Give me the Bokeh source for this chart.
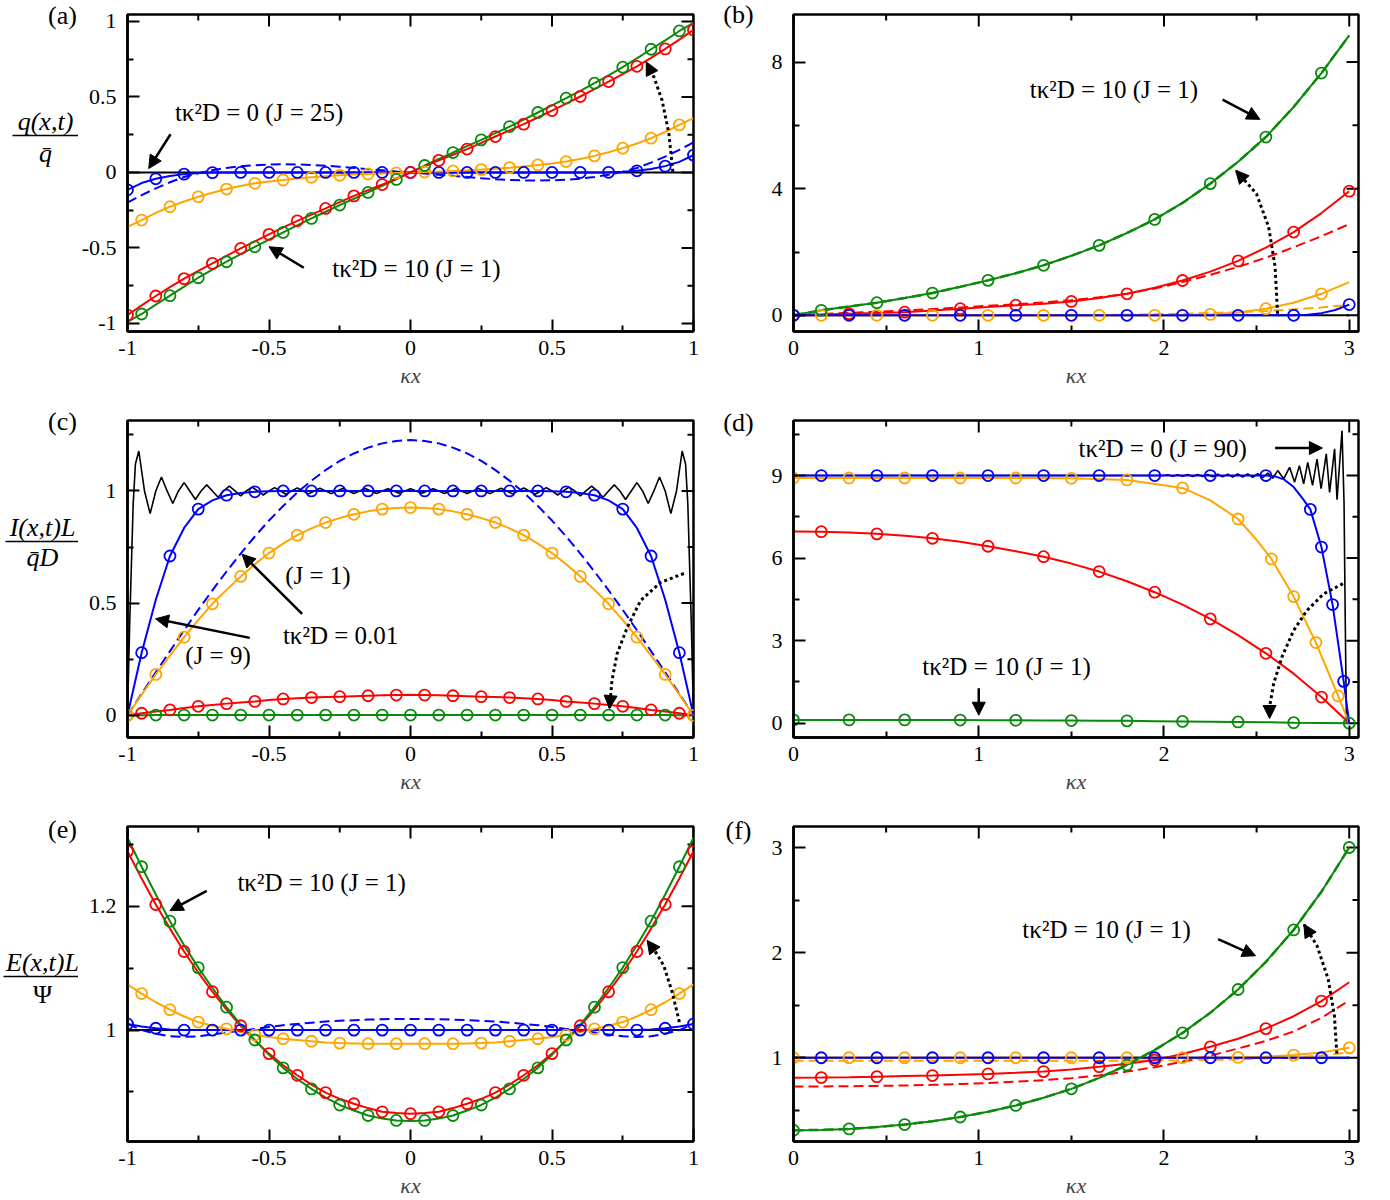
import numpy as np
from bokeh.plotting import figure
from bokeh.layouts import column, row
from bokeh.models import (Range1d, FixedTicker, LinearAxis, Label, Arrow,
                          NormalHead, CustomJSTickFormatter)
from bokeh.core.properties import value
from bokeh.embed import file_html
from bokeh.resources import INLINE

SERIF = "Liberation Serif"
BLUE, ORANGE, RED, GREEN, BLACK = "#0000ff", "#ffa500", "#ff0000", "#0a8a0a", "#000000"

# ---------------- sampling grids ----------------
X41 = [round(-1 + 0.05 * i, 2) for i in range(41)]
X21 = [round(0.15 * i, 2) for i in range(21)]

# ---------------- panel (a): q(x,t)/qbar ----------------
a_black_x = [-1.0, 1.0]
a_black_y = [0.0, 0.0]
a_green = [-0.990, -0.937, -0.875, -0.816, -0.756, -0.697, -0.643, -0.591, -0.541, -0.492, -0.444,
           -0.397, -0.350, -0.304, -0.260, -0.216, -0.174, -0.132, -0.089, -0.046, 0.0,
           0.046, 0.089, 0.132, 0.174, 0.216, 0.260, 0.304, 0.350, 0.397, 0.444, 0.492,
           0.541, 0.591, 0.643, 0.697, 0.756, 0.816, 0.875, 0.937, 0.990]
a_red = [-0.944, -0.880, -0.818, -0.759, -0.703, -0.651, -0.602, -0.552, -0.503, -0.456, -0.410,
         -0.364, -0.320, -0.279, -0.238, -0.196, -0.155, -0.117, -0.080, -0.040, 0.0,
         0.040, 0.080, 0.117, 0.155, 0.196, 0.238, 0.279, 0.320, 0.364, 0.410, 0.456,
         0.503, 0.552, 0.602, 0.651, 0.703, 0.759, 0.818, 0.880, 0.944]
a_orange = [-0.360, -0.315, -0.268, -0.227, -0.192, -0.161, -0.134, -0.110, -0.089, -0.072, -0.060,
            -0.050, -0.040, -0.032, -0.025, -0.019, -0.014, -0.010, -0.006, -0.003, 0.0,
            0.003, 0.006, 0.010, 0.014, 0.019, 0.025, 0.032, 0.040, 0.050, 0.060, 0.072,
            0.089, 0.110, 0.134, 0.161, 0.192, 0.227, 0.268, 0.315, 0.360]
a_blue = [-0.115, -0.070, -0.042, -0.023, -0.011, -0.004, -0.001, 0.0, 0.0, 0.0, 0.0,
          0.0, 0.0, 0.0, 0.0, 0.0, 0.0, 0.0, 0.0, 0.0, 0.0,
          0.0, 0.0, 0.0, 0.0, 0.0, 0.0, 0.0, 0.0, 0.0, 0.0, 0.0,
          0.0, 0.0, 0.001, 0.004, 0.011, 0.023, 0.042, 0.070, 0.115]
a_blue_dash = [-0.200, -0.150, -0.105, -0.065, -0.030, -0.005, 0.015, 0.030, 0.041, 0.048, 0.052,
               0.054, 0.053, 0.050, 0.045, 0.038, 0.030, 0.022, 0.015, 0.007, 0.0,
               -0.007, -0.015, -0.022, -0.030, -0.038, -0.045, -0.050, -0.053, -0.054, -0.052, -0.048,
               -0.041, -0.030, -0.015, 0.005, 0.030, 0.065, 0.105, 0.150, 0.200]

# ---------------- panel (b) ----------------
b_black_x = [0.0, 3.0]
b_black_y = [0.0, 0.0]
b_green = [0.0, 0.158, 0.28, 0.40, 0.545, 0.705, 0.90, 1.105, 1.33, 1.58, 1.88,
           2.21, 2.60, 3.03, 3.55, 4.16, 4.85, 5.63, 6.58, 7.65, 8.84]
b_red = [0.0, 0.025, 0.05, 0.075, 0.10, 0.15, 0.21, 0.26, 0.32, 0.37, 0.44,
         0.55, 0.68, 0.87, 1.10, 1.38, 1.72, 2.14, 2.63, 3.23, 3.92]
b_red_dash = [0.0, 0.04, 0.08, 0.115, 0.15, 0.20, 0.25, 0.30, 0.35, 0.41, 0.48,
              0.57, 0.68, 0.85, 1.05, 1.28, 1.53, 1.82, 2.15, 2.50, 2.88]
b_orange = [0.0, 0.0, 0.0, 0.0, 0.0, 0.0, 0.0, 0.0, 0.0, 0.0, 0.0,
            0.0, 0.0, 0.0, 0.01, 0.03, 0.09, 0.21, 0.40, 0.68, 1.05]
b_orange_dash = [0.0, 0.0, 0.0, 0.0, 0.0, 0.0, 0.0, 0.0, 0.0, 0.0, 0.0,
                 0.01, 0.02, 0.035, 0.05, 0.075, 0.10, 0.14, 0.19, 0.25, 0.33]
b_blue_x = [0.0, 0.3, 0.6, 0.9, 1.2, 1.5, 1.8, 2.1, 2.4, 2.7, 2.775, 2.85, 2.925, 3.0]
b_blue_y = [0.0, 0.0, 0.0, 0.0, 0.0, 0.0, 0.0, 0.0, 0.0, 0.0, 0.02, 0.07, 0.17, 0.34]
b_blue_mx = [0.0, 0.3, 0.6, 0.9, 1.2, 1.5, 1.8, 2.1, 2.4, 2.7, 3.0]
b_blue_my = [0.0, 0.0, 0.0, 0.0, 0.0, 0.0, 0.0, 0.0, 0.0, 0.0, 0.34]

# ---------------- panel (c): I(x,t)L/(qbar D) ----------------
c_black_x = ([-1.0, -0.992, -0.98, -0.972] + [round(-0.96 + 0.02 * j, 3) for j in range(97)]
             + [0.972, 0.98, 0.992, 1.0])
c_black_y = ([0.0, 0.42, 0.94, 1.12] +
             [1.178, 1.0, 0.899, 1.0, 1.062, 1.0, 0.944, 1.0, 1.037, 1.0, 0.962, 1.0, 1.027, 1.0,
              0.972, 1.0, 1.021, 1.0, 0.978, 1.0, 1.017, 1.0, 0.982, 1.0, 1.015, 1.0, 0.985, 1.0,
              1.013, 1.0, 0.987, 1.0, 1.012, 1.0, 0.988, 1.0, 1.011, 1.0, 0.989, 1.0, 1.011, 1.0,
              0.989, 1.0, 1.010, 1.0, 0.990, 1.0, 1.010,
              1.0, 0.990, 1.0, 1.010, 1.0, 0.989, 1.0, 1.011, 1.0, 0.989, 1.0, 1.011, 1.0, 0.988,
              1.0, 1.012, 1.0, 0.987, 1.0, 1.013, 1.0, 0.985, 1.0, 1.015, 1.0, 0.982, 1.0, 1.017,
              1.0, 0.978, 1.0, 1.021, 1.0, 0.972, 1.0, 1.027, 1.0, 0.962, 1.0, 1.037, 1.0, 0.944,
              1.0, 1.062, 1.0, 0.899, 1.0, 1.178]
             + [1.12, 0.94, 0.42, 0.0])
c_blue = [0.0, 0.279, 0.515, 0.710, 0.835, 0.919, 0.958, 0.981, 0.991, 0.996, 0.999,
          1.0, 1.0, 1.0, 1.0, 1.0, 1.0, 1.0, 1.0, 1.0, 1.0,
          1.0, 1.0, 1.0, 1.0, 1.0, 1.0, 1.0, 1.0, 1.0, 0.999, 0.996,
          0.991, 0.981, 0.958, 0.919, 0.835, 0.710, 0.515, 0.279, 0.0]
c_blue_dash = [0.0, 0.096, 0.192, 0.286, 0.379, 0.470, 0.557, 0.641, 0.721, 0.797, 0.868,
               0.933, 0.993, 1.046, 1.093, 1.134, 1.167, 1.193, 1.212, 1.223, 1.227,
               1.223, 1.212, 1.193, 1.167, 1.134, 1.093, 1.046, 0.993, 0.933, 0.868, 0.797,
               0.721, 0.641, 0.557, 0.470, 0.379, 0.286, 0.192, 0.096, 0.0]
c_orange = [0.0, 0.092, 0.182, 0.266, 0.348, 0.424, 0.497, 0.559, 0.619, 0.673, 0.723,
            0.765, 0.803, 0.833, 0.859, 0.879, 0.896, 0.909, 0.919, 0.924, 0.926,
            0.924, 0.919, 0.909, 0.896, 0.879, 0.859, 0.833, 0.803, 0.765, 0.723, 0.673,
            0.619, 0.559, 0.497, 0.424, 0.348, 0.266, 0.182, 0.092, 0.0]
c_red = [0.0, 0.009, 0.017, 0.024, 0.032, 0.040, 0.046, 0.052, 0.057, 0.062, 0.068,
         0.073, 0.076, 0.079, 0.081, 0.083, 0.085, 0.087, 0.089, 0.090, 0.091,
         0.090, 0.089, 0.087, 0.085, 0.083, 0.081, 0.079, 0.076, 0.073, 0.068, 0.062,
         0.057, 0.052, 0.046, 0.040, 0.032, 0.024, 0.017, 0.009, 0.0]
c_green = [0.0, 0.0, 0.001, 0.001, 0.001, 0.001, 0.001, 0.001, 0.001, 0.001, 0.001,
           0.001, 0.001, 0.001, 0.001, 0.001, 0.001, 0.001, 0.001, 0.001, 0.001,
           0.001, 0.001, 0.001, 0.001, 0.001, 0.001, 0.001, 0.001, 0.001, 0.001, 0.001,
           0.001, 0.001, 0.001, 0.001, 0.001, 0.001, 0.001, 0.0, 0.0]

# ---------------- panel (d) ----------------
d_black_x = [0.0, 2.0, 2.020, 2.047, 2.074, 2.101, 2.128, 2.155, 2.182, 2.209, 2.236, 2.263,
             2.290, 2.317, 2.344, 2.371, 2.398, 2.425, 2.452, 2.479, 2.506, 2.533, 2.560,
             2.587, 2.614, 2.646, 2.678, 2.705, 2.731, 2.754, 2.776, 2.802, 2.826, 2.848,
             2.876, 2.894, 2.921, 2.934, 2.961, 2.972, 2.978, 2.985, 3.0]
d_black_y = [9.0, 9.0, 9.03, 8.97, 9.03, 8.97, 9.035, 8.965, 9.035, 8.96, 9.04, 8.955,
             9.045, 8.95, 9.05, 8.945, 9.055, 8.94, 9.06, 8.93, 9.07, 8.92, 9.09,
             8.90, 9.18, 8.88, 9.30, 8.76, 9.36, 8.70, 9.48, 8.64, 9.60, 8.52,
             9.79, 8.39, 9.97, 8.12, 10.63, 8.0, 4.0, 0.0, 0.0]
d_red = [6.97, 6.96, 6.93, 6.88, 6.81, 6.72, 6.59, 6.43, 6.25, 6.05, 5.80,
         5.51, 5.16, 4.76, 4.31, 3.79, 3.20, 2.54, 1.80, 0.95, 0.0]
d_green = [0.12, 0.12, 0.12, 0.12, 0.12, 0.115, 0.115, 0.11, 0.105, 0.10, 0.095,
           0.09, 0.085, 0.075, 0.065, 0.055, 0.045, 0.035, 0.02, 0.01, 0.0]
d_blue_x = [0.0, 0.3, 0.6, 0.9, 1.2, 1.5, 1.8, 2.1, 2.4, 2.55, 2.6, 2.65, 2.7, 2.75,
            2.79, 2.85, 2.91, 2.97, 3.0]
d_blue_y = [9.0, 9.0, 9.0, 9.0, 9.0, 9.0, 9.0, 9.0, 9.0, 9.0, 8.97, 8.85, 8.58, 8.15,
            7.77, 6.40, 4.31, 1.52, 0.0]
d_blue_mx = [0.15, 0.45, 0.75, 1.05, 1.35, 1.65, 1.95, 2.25, 2.55, 2.79, 2.85, 2.91, 2.97]
d_blue_my = [9.0, 9.0, 9.0, 9.0, 9.0, 9.0, 9.0, 9.0, 9.0, 7.77, 6.40, 4.31, 1.52]
d_orange_x = [0.0, 0.3, 0.6, 0.9, 1.2, 1.5, 1.8, 2.1, 2.25, 2.4, 2.5, 2.58, 2.7, 2.82, 2.94, 3.0]
d_orange_y = [8.91, 8.91, 8.91, 8.91, 8.91, 8.90, 8.84, 8.55, 8.10, 7.42, 6.66, 5.97,
              4.60, 2.93, 0.99, 0.0]
d_orange_mx = [0.0, 0.3, 0.6, 0.9, 1.2, 1.5, 1.8, 2.1, 2.4, 2.58, 2.70, 2.82, 2.94]
d_orange_my = [8.91, 8.91, 8.91, 8.91, 8.91, 8.90, 8.84, 8.55, 7.42, 5.97, 4.60, 2.93, 0.99]

# ---------------- panel (e): E(x,t)L/Psi ----------------
e_black_x = [-1.0, 1.0]
e_black_y = [1.0, 1.0]
e_red = [1.289, 1.245, 1.203, 1.164, 1.127, 1.093, 1.062, 1.033, 1.007, 0.983, 0.962,
         0.943, 0.927, 0.912, 0.899, 0.889, 0.881, 0.874, 0.868, 0.866, 0.865,
         0.866, 0.868, 0.874, 0.881, 0.889, 0.899, 0.912, 0.927, 0.943, 0.962, 0.983,
         1.007, 1.033, 1.062, 1.093, 1.127, 1.164, 1.203, 1.245, 1.289]
e_green = [1.311, 1.264, 1.219, 1.176, 1.137, 1.101, 1.068, 1.037, 1.009, 0.984, 0.960,
           0.939, 0.921, 0.905, 0.891, 0.879, 0.870, 0.862, 0.857, 0.854, 0.853,
           0.854, 0.857, 0.862, 0.870, 0.879, 0.891, 0.905, 0.921, 0.939, 0.960, 0.984,
           1.009, 1.037, 1.068, 1.101, 1.137, 1.176, 1.219, 1.264, 1.311]
e_orange = [1.074, 1.059, 1.045, 1.033, 1.022, 1.013, 1.007, 1.002, 0.997, 0.992, 0.989,
            0.986, 0.984, 0.982, 0.980, 0.979, 0.9785, 0.978, 0.978, 0.978, 0.978,
            0.978, 0.978, 0.978, 0.9785, 0.979, 0.980, 0.982, 0.984, 0.986, 0.989, 0.992,
            0.997, 1.002, 1.007, 1.013, 1.022, 1.033, 1.045, 1.059, 1.074]
e_blue = [1.010, 1.006, 1.003, 1.001, 1.0, 1.0, 1.0, 1.0, 1.0, 1.0, 1.0,
          1.0, 1.0, 1.0, 1.0, 1.0, 1.0, 1.0, 1.0, 1.0, 1.0,
          1.0, 1.0, 1.0, 1.0, 1.0, 1.0, 1.0, 1.0, 1.0, 1.0, 1.0,
          1.0, 1.0, 1.0, 1.0, 1.0, 1.001, 1.003, 1.006, 1.010]
e_blue_dash = [1.010, 1.000, 0.994, 0.990, 0.989, 0.990, 0.993, 0.996, 0.999, 1.002, 1.005,
               1.008, 1.010, 1.012, 1.014, 1.015, 1.016, 1.017, 1.0175, 1.018, 1.018,
               1.018, 1.0175, 1.017, 1.016, 1.015, 1.014, 1.012, 1.010, 1.008, 1.005, 1.002,
               0.999, 0.996, 0.993, 0.990, 0.989, 0.990, 0.994, 1.000, 1.010]

# ---------------- panel (f) ----------------
f_black_x = [0.0, 3.0]
f_black_y = [1.0, 1.0]
f_green = [0.31, 0.313, 0.323, 0.340, 0.364, 0.396, 0.436, 0.486, 0.546, 0.619, 0.704,
           0.808, 0.931, 1.074, 1.236, 1.428, 1.649, 1.912, 2.216, 2.58, 3.0]
f_red = [0.81, 0.811, 0.815, 0.82, 0.825, 0.83, 0.838, 0.846, 0.856, 0.868, 0.888,
         0.915, 0.943, 0.978, 1.035, 1.104, 1.18, 1.277, 1.395, 1.539, 1.718]
f_red_dash = [0.726, 0.727, 0.729, 0.732, 0.736, 0.742, 0.750, 0.760, 0.772, 0.787, 0.805,
              0.832, 0.868, 0.91, 0.962, 1.02, 1.088, 1.16, 1.25, 1.38, 1.545]
f_orange = [1.0, 1.0, 1.0, 1.0, 1.0, 1.0, 1.0, 1.0, 1.0, 1.0, 1.0,
            1.0, 1.0, 1.0, 1.0, 1.001, 1.003, 1.01, 1.025, 1.05, 1.094]
f_orange_dash = [0.972, 0.972, 0.972, 0.972, 0.972, 0.972, 0.972, 0.972, 0.972, 0.972, 0.972,
                 0.972, 0.972, 0.973, 0.975, 0.979, 0.985, 0.993, 1.004, 1.022, 1.05]
f_blue = [1.0, 1.0, 1.0, 1.0, 1.0, 1.0, 1.0, 1.0, 1.0, 1.0, 1.0,
          1.0, 1.0, 1.0, 1.0, 1.0, 1.0, 1.0, 1.0, 1.0, 1.0]

# ---------------- tick labels ----------------
XT1 = [-1, -0.5, 0, 0.5, 1]
XM1 = [-0.75, -0.25, 0.25, 0.75]
XT3 = [0, 1, 2, 3]
XM3 = [0.5, 1.5, 2.5]

# ---------------- helpers ----------------
FMT = CustomJSTickFormatter(code="return String(Math.round(tick * 1000) / 1000);")
ANN = "25px"


def panel(xr, yr, xt, xm, yt, ym, left, right, top, bottom, fw, fh):
    p = figure(width=left + fw + right, height=top + fh + bottom,
               x_range=Range1d(*xr), y_range=Range1d(*yr),
               x_axis_location=None, y_axis_location=None,
               output_backend="svg", toolbar_location=None,
               min_border_left=left, min_border_right=right,
               min_border_top=top, min_border_bottom=bottom)
    p.grid.visible = False
    p.outline_line_color = BLACK
    p.outline_line_width = 2.5
    for loc, maj, mnr in (("below", xt, xm), ("left", yt, ym)):
        ax = LinearAxis(ticker=FixedTicker(ticks=maj, minor_ticks=mnr), formatter=FMT)
        ax.axis_line_width = 2.5
        ax.axis_line_color = BLACK
        ax.major_tick_in = 12
        ax.major_tick_out = 0
        ax.minor_tick_in = 6
        ax.minor_tick_out = 0
        ax.major_tick_line_width = 2
        ax.minor_tick_line_width = 2
        ax.major_label_text_font = SERIF
        ax.major_label_text_font_size = "22px"
        ax.major_label_text_color = BLACK
        ax.major_label_standoff = 11 if loc == "left" else 9
        if loc == "below":
            ax.axis_label = "κx"
            ax.axis_label_text_font = SERIF
            ax.axis_label_text_font_style = "italic"
            ax.axis_label_text_font_size = "22px"
            ax.axis_label_standoff = 5
        p.add_layout(ax, loc)
    # mirrored inward ticks on the top and right edges (half of each dash is clipped)
    p.scatter(xt, [yr[1]] * len(xt), marker="dash", angle=np.pi / 2, size=24,
              line_color=BLACK, line_width=2)
    p.scatter(xm, [yr[1]] * len(xm), marker="dash", angle=np.pi / 2, size=12,
              line_color=BLACK, line_width=2)
    p.scatter([xr[1]] * len(yt), yt, marker="dash", size=24, line_color=BLACK, line_width=2)
    p.scatter([xr[1]] * len(ym), ym, marker="dash", size=12, line_color=BLACK, line_width=2)
    return p


def side(width, height):
    p = figure(width=width, height=height, x_range=Range1d(0, width), y_range=Range1d(height, 0),
               x_axis_location=None, y_axis_location=None, output_backend="svg",
               toolbar_location=None, min_border_left=0, min_border_right=0,
               min_border_top=0, min_border_bottom=0)
    p.grid.visible = False
    p.outline_line_color = None
    return p


def stext(p, x, y, s, size="26px", style="normal"):
    p.text(x=[x], y=[y], text=[s], text_font=value(SERIF), text_font_size=value(size),
           text_font_style=style, text_align="center", text_baseline="middle",
           text_color=BLACK)


def frac(p, x, yn, yb, yd, num, den, x0, x1, den_style="italic"):
    stext(p, x, yn, num, style="italic")
    p.line([x0, x1], [yb, yb], line_color=BLACK, line_width=1.3)
    stext(p, x, yd, den, style=den_style)


def curve(p, x, y, color, dash="solid", width=2.0):
    p.line(x, y, line_color=color, line_width=width, line_dash=dash)


def marks(p, x, y, color):
    p.scatter(x, y, marker="circle", size=11, fill_color=None, line_color=color, line_width=1.8)


def txt(p, x, y, s):
    p.add_layout(Label(x=x, y=y, text=s, text_font=SERIF, text_font_size=ANN,
                       text_align="center", text_baseline="middle", text_color=BLACK))


def head():
    return NormalHead(size=13, fill_color=BLACK, line_color=BLACK, line_width=1)


def arrow(p, x0, y0, x1, y1):
    p.add_layout(Arrow(end=head(), x_start=x0, y_start=y0, x_end=x1, y_end=y1,
                       line_width=2.5, line_color=BLACK))


def dotted_arrow(p, xs, ys):
    p.line(xs, ys, line_color=BLACK, line_width=3, line_dash="3 3")
    p.add_layout(Arrow(end=head(), x_start=xs[-2], y_start=ys[-2], x_end=xs[-1], y_end=ys[-1],
                       line_alpha=0.0))


# layout sizes (pixels)
SL, SR = 78, 40            # side label strips
LB_L, LB_R = 49, 25        # left-column panel borders
RB_L, RB_R = 35, 20        # right-column panel borders
FW_L, FW_R = 566, 565
TOP, BOT, BOT_LAST = 14, 75, 56
FH, FH_LAST = 317, 318
RH, RH_LAST = TOP + FH + BOT, TOP + FH_LAST + BOT_LAST

# ---------------- (a) ----------------
pa = panel((-1, 1), (-1.053, 1.046), XT1, XM1, XT1, XM1, LB_L, LB_R, TOP, BOT, FW_L, FH)
curve(pa, a_black_x, a_black_y, BLACK)
curve(pa, X41, a_blue_dash, BLUE, dash="10 5")
curve(pa, X41, a_blue, BLUE)
curve(pa, X41, a_orange, ORANGE)
curve(pa, X41, a_green, GREEN)
curve(pa, X41, a_red, RED)
marks(pa, X41[0::2], a_blue[0::2], BLUE)
marks(pa, X41[1::2], a_orange[1::2], ORANGE)
marks(pa, X41[1::2], a_green[1::2], GREEN)
marks(pa, X41[0::2], a_red[0::2], RED)
txt(pa, -0.535, 0.399, "tκ²D = 0 (J = 25)")
arrow(pa, -0.848, 0.253, -0.925, 0.026)
txt(pa, 0.021, -0.633, "tκ²D = 10 (J = 1)")
arrow(pa, -0.377, -0.631, -0.50, -0.492)
dotted_arrow(pa, [0.927, 0.913, 0.889, 0.86, 0.833], [0.004, 0.258, 0.478, 0.632, 0.732])

sa = side(SL, RH)
stext(sa, 62, 15, "(a)")
frac(sa, 45, 121, 135, 153, "q(x,t)", "q\u0304", 12, 78)

# ---------------- (b) ----------------
pb = panel((0, 3.05), (-0.51, 9.5), XT3, XM3, [0, 4, 8], [2, 6], RB_L, RB_R, TOP, BOT, FW_R, FH)
curve(pb, b_black_x, b_black_y, BLACK)
curve(pb, X21, b_orange_dash, ORANGE, dash="10 5")
curve(pb, X21, b_orange, ORANGE)
curve(pb, X21, b_red_dash, RED, dash="10 5")
curve(pb, X21, b_red, RED)
curve(pb, X21, b_green, GREEN)
curve(pb, X21, b_green, GREEN, dash="10 5", width=2.5)
curve(pb, b_blue_x, b_blue_y, BLUE)
marks(pb, X21[1::2], b_orange[1::2], ORANGE)
marks(pb, X21[0::2], b_red[0::2], RED)
marks(pb, X21[1::2], b_green[1::2], GREEN)
marks(pb, b_blue_mx, b_blue_my, BLUE)
txt(pb, 1.73, 7.12, "tκ²D = 10 (J = 1)")
arrow(pb, 2.316, 6.81, 2.518, 6.19)
dotted_arrow(pb, [2.613, 2.60, 2.565, 2.499, 2.387], [0.05, 1.53, 2.79, 3.84, 4.58])

sb = side(SR, RH)
stext(sb, 20, 14, "(b)")

# ---------------- (c) ----------------
pc = panel((-1, 1), (-0.099, 1.314), XT1, XM1, [0, 0.5, 1], [0.25, 0.75, 1.25],
           LB_L, LB_R, TOP, BOT, FW_L, FH)
curve(pc, c_black_x, c_black_y, BLACK, width=1.6)
curve(pc, X41, c_blue_dash, BLUE, dash="10 5")
curve(pc, X41, c_green, GREEN)
curve(pc, X41, c_red, RED)
curve(pc, X41, c_orange, ORANGE)
curve(pc, X41, c_blue, BLUE)
marks(pc, X41[0::2], c_green[0::2], GREEN)
marks(pc, X41[1::2], c_red[1::2], RED)
marks(pc, X41[0::2], c_orange[0::2], ORANGE)
marks(pc, X41[1::2], c_blue[1::2], BLUE)
txt(pc, -0.327, 0.622, "(J = 1)")
arrow(pc, -0.383, 0.452, -0.595, 0.718)
txt(pc, -0.247, 0.356, "tκ²D = 0.01")
txt(pc, -0.680, 0.267, "(J = 9)")
arrow(pc, -0.568, 0.345, -0.901, 0.43)
dotted_arrow(pc, [0.966, 0.883, 0.813, 0.766, 0.73, 0.712, 0.703],
             [0.632, 0.592, 0.511, 0.392, 0.274, 0.156, 0.03])

sc = side(SL, RH)
stext(sc, 62, 15, "(c)")
frac(sc, 42, 121, 135, 151, "I(x,t)L", "q\u0304D", 5, 78)

# ---------------- (d) ----------------
pd_ = panel((0, 3.05), (-0.52, 11.0), XT3, XM3, [0, 3, 6, 9], [1.5, 4.5, 7.5, 10.5],
            RB_L, RB_R, TOP, BOT, FW_R, FH)
curve(pd_, d_black_x, d_black_y, BLACK, width=1.6)
curve(pd_, X21, d_green, GREEN)
curve(pd_, X21, d_red, RED)
curve(pd_, d_orange_x, d_orange_y, ORANGE)
curve(pd_, d_blue_x, d_blue_y, BLUE)
marks(pd_, X21[0::2], d_green[0::2], GREEN)
marks(pd_, X21[1::2], d_red[1::2], RED)
marks(pd_, d_orange_mx, d_orange_my, ORANGE)
marks(pd_, d_blue_mx, d_blue_my, BLUE)
txt(pd_, 1.993, 9.98, "tκ²D = 0 (J = 90)")
arrow(pd_, 2.60, 10.0, 2.855, 10.0)
txt(pd_, 1.15, 2.06, "tκ²D = 10 (J = 1)")
arrow(pd_, 1.0, 1.27, 1.0, 0.29)
dotted_arrow(pd_, [2.966, 2.862, 2.772, 2.70, 2.637, 2.592, 2.57, 2.57],
             [5.07, 4.70, 4.10, 3.37, 2.41, 1.44, 0.59, 0.17])

sd = side(SR, RH)
stext(sd, 20, 16, "(d)")

# ---------------- (e) ----------------
pe = panel((-1, 1), (0.82, 1.329), XT1, XM1, [1.0, 1.2], [0.9, 1.1, 1.3],
           LB_L, LB_R, TOP, BOT_LAST, FW_L, FH_LAST)
curve(pe, e_black_x, e_black_y, BLACK)
curve(pe, X41, e_blue_dash, BLUE, dash="10 5")
curve(pe, X41, e_blue, BLUE)
curve(pe, X41, e_orange, ORANGE)
curve(pe, X41, e_red, RED)
curve(pe, X41, e_green, GREEN)
marks(pe, X41[0::2], e_blue[0::2], BLUE)
marks(pe, X41[1::2], e_orange[1::2], ORANGE)
marks(pe, X41[0::2], e_red[0::2], RED)
marks(pe, X41[1::2], e_green[1::2], GREEN)
txt(pe, -0.314, 1.239, "tκ²D = 10 (J = 1)")
arrow(pe, -0.72, 1.225, -0.85, 1.193)
dotted_arrow(pe, [0.95, 0.925, 0.895, 0.865, 0.836], [1.013, 1.061, 1.104, 1.127, 1.145])

se = side(SL, RH_LAST)
stext(se, 62, 17, "(e)")
frac(se, 42, 150, 164, 182, "E(x,t)L", "Ψ", 3, 78, den_style="normal")

# ---------------- (f) ----------------
pf = panel((0, 3.05), (0.203, 3.2), XT3, XM3, [1, 2, 3], [0.5, 1.5, 2.5],
           RB_L, RB_R, TOP, BOT_LAST, FW_R, FH_LAST)
curve(pf, f_black_x, f_black_y, BLACK)
curve(pf, X21, f_orange_dash, ORANGE, dash="10 5")
curve(pf, X21, f_red_dash, RED, dash="10 5")
curve(pf, X21, f_red, RED)
curve(pf, X21, f_orange, ORANGE)
curve(pf, X21, f_blue, BLUE)
curve(pf, X21, f_green, GREEN)
curve(pf, X21, f_green, GREEN, dash="10 5", width=2.5)
marks(pf, X21[0::2], f_green[0::2], GREEN)
marks(pf, X21[1::2], f_red[1::2], RED)
marks(pf, X21[0::2], f_orange[0::2], ORANGE)
marks(pf, X21[1::2], f_blue[1::2], BLUE)
txt(pf, 1.69, 2.222, "tκ²D = 10 (J = 1)")
arrow(pf, 2.292, 2.128, 2.494, 1.97)
dotted_arrow(pf, [2.933, 2.92, 2.886, 2.826, 2.755], [1.04, 1.40, 1.75, 2.065, 2.27])

sf = side(SR, RH_LAST)
stext(sf, 20, 18, "(f)")

layout = row(column(sa, sc, se), column(pa, pc, pe), column(sb, sd, sf), column(pb, pd_, pf))
open("out.html", "w").write(file_html(layout, INLINE))
